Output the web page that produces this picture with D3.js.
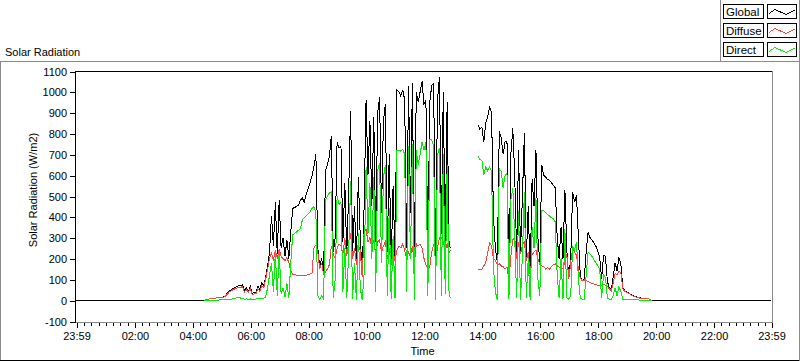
<!DOCTYPE html>
<html><head><meta charset="utf-8">
<script src="https://cdn.jsdelivr.net/npm/d3@7"></script>
<style>
html,body{margin:0;padding:0;background:#fff;}
svg{display:block;font-family:"Liberation Sans",Arial,sans-serif;}
</style></head><body>
<svg id="chart" width="800" height="361"></svg>
<script>
// ---------- DATA ----------
const seriesNames = ["Global", "Diffuse", "Direct"];
const seriesColors = ["#000000", "#ff4040", "#00ee00"];
const xTickMinutes = [-1, 120, 240, 360, 480, 600, 720, 840, 960, 1080, 1200, 1320, 1439];
const xTickLabels = ["23:59", "02:00", "04:00", "06:00", "08:00", "10:00", "12:00", "14:00", "16:00", "18:00", "20:00", "22:00", "23:59"];
const yTickValues = [-100, 0, 100, 200, 300, 400, 500, 600, 700, 800, 900, 1000, 1100];
const yTickLabels = ["-100", "0", "100", "200", "300", "400", "500", "600", "700", "800", "900", "1000", "1100"];
// sample times (minutes after midnight): 23:59 of previous day, 04:24 .. 19:52 every 4 minutes, 23:59
const times = [-1].concat(d3.range(264, 1193, 4)).concat([1439]);

const globalValues = [0,
 0,2,4,6,8,9,10,11,12,13,15,
 20,32,42,48,56,60,65,70,68,74,
 45,58,40,66,30,38,35,66,50,85,
 70,110,165,230,405,260,470,220,480,250,
 300,210,290,200,330,440,445,450,455,480,
 490,470,510,535,565,595,640,700,250,160,
 200,130,620,650,690,790,230,300,760,730,
 740,280,560,220,520,910,220,450,180,590,
 300,120,450,960,600,860,450,880,280,900,
 975,420,860,940,230,700,180,550,200,1010,
 1000,980,1010,960,250,1030,420,1040,180,1000,
 950,1000,1050,940,960,230,950,1030,1040,200,
 960,1070,320,1000,280,950,260,250,
 null,null,null,null,null,null,null,null,null,null,null,null,null,
 840,820,830,760,850,880,930,900,400,
 250,180,810,780,700,760,760,100,700,825,
 600,220,720,230,500,800,200,450,120,580,
 450,720,300,180,650,600,590,580,575,565,
 550,540,300,200,350,200,530,240,110,200,
 520,470,505,300,110,95,100,230,325,300,
 290,275,260,235,210,100,215,210,90,60,
 50,110,180,140,205,170,60,45,40,35,
 28,22,18,16,12,11,9,7,10,8,3,0,
 0];

const diffuseValues = [null,
 0,2,4,6,8,9,10,11,12,12,14,
 18,28,38,44,50,54,58,62,60,66,
 40,52,36,58,26,30,30,55,42,70,
 60,100,150,200,225,190,240,200,245,210,
 200,190,205,180,140,125,122,120,118,120,
 120,118,120,122,125,130,250,265,230,150,
 180,125,135,150,170,260,220,200,250,270,
 260,220,300,210,280,320,200,250,170,260,
 240,110,330,340,280,300,250,290,220,280,
 290,230,260,280,200,250,170,230,190,240,
 260,250,270,240,200,230,210,260,170,270,
 260,270,250,200,170,150,160,230,270,190,
 250,300,300,280,240,270,230,240,
 null,null,null,null,null,null,null,null,null,null,null,null,null,
 145,145,150,165,180,230,275,260,200,
 190,170,175,165,160,150,160,90,210,290,
 300,200,280,220,265,280,190,230,115,220,
 230,240,200,170,165,160,150,155,150,160,
 170,175,165,160,150,155,180,220,100,180,
 250,230,215,150,105,92,97,95,90,85,
 80,78,75,70,68,70,75,72,65,55,
 45,80,130,120,140,130,55,42,38,33,
 27,21,17,15,11,10,8,6,9,7,3,0,
 null];

const directValues = [null,
 0,0,0,0,0,0,0,0,1,1,1,
 1,2,3,4,6,8,12,14,10,8,
 5,6,4,6,3,4,5,8,6,10,
 10,15,60,120,180,40,230,20,235,30,
 60,15,80,10,180,315,320,328,335,345,
 385,395,405,415,425,440,450,420,20,5,
 20,5,480,500,515,520,10,100,500,460,
 470,40,250,10,230,570,5,180,0,320,
 60,0,130,640,320,560,200,590,40,620,
 660,180,590,650,20,440,5,310,10,720,
 720,715,725,700,40,740,200,750,0,720,
 650,700,760,720,760,20,770,770,740,0,
 700,730,20,700,30,650,20,10,
 null,null,null,null,null,null,null,null,null,null,null,null,null,
 690,675,670,600,640,620,640,620,150,
 40,0,630,620,540,600,610,5,480,540,
 300,10,430,0,220,520,10,200,0,350,
 250,490,100,20,430,430,420,410,405,395,
 390,375,120,10,200,5,340,10,5,20,
 260,240,280,100,10,5,5,120,230,222,
 210,195,180,165,150,10,120,110,10,5,
 3,20,60,20,65,40,3,2,2,1,
 1,1,1,1,1,0,0,0,0,0,0,0,
 null];

// ---------- CHART ----------
const svg = d3.select("#chart");
const frameGray = "#8a8a8a";
const plotLeft = 76, plotRight = 771, plotTop = 71, plotBottom = 321;

const x = d3.scaleLinear().domain([-1, 1439]).range([plotLeft, plotRight]);
const y = d3.scaleLinear().domain([-100, 1100]).range([plotBottom, plotTop]);

// outer panel lines
svg.append("line").attr("x1", 0).attr("x2", 800).attr("y1", 61.5).attr("y2", 61.5).attr("stroke", frameGray);
svg.append("line").attr("x1", 0.5).attr("x2", 0.5).attr("y1", 61).attr("y2", 361).attr("stroke", frameGray);
svg.append("line").attr("x1", 0).attr("x2", 800).attr("y1", 360.5).attr("y2", 360.5).attr("stroke", "#000");
svg.append("line").attr("x1", 799.5).attr("x2", 799.5).attr("y1", 0).attr("y2", 361).attr("stroke", frameGray);
svg.append("line").attr("x1", 720.5).attr("x2", 720.5).attr("y1", 0).attr("y2", 61).attr("stroke", frameGray);

// caption
svg.append("text").attr("x", 5).attr("y", 55.5).attr("font-size", 11).attr("fill", "#000").text("Solar Radiation");

// plot frame
svg.append("line").attr("x1", 75.5).attr("x2", 772).attr("y1", 71.5).attr("y2", 71.5).attr("stroke", "#000");
svg.append("line").attr("x1", 772.5).attr("x2", 772.5).attr("y1", 71).attr("y2", 323).attr("stroke", frameGray);
svg.append("line").attr("x1", 75).attr("x2", 773).attr("y1", 322.5).attr("y2", 322.5).attr("stroke", frameGray);
svg.append("line").attr("x1", 75.5).attr("x2", 75.5).attr("y1", 71).attr("y2", 323).attr("stroke", "#000");

// series
const seriesData = [globalValues, diffuseValues, directValues];
const line = d3.line().defined(d => d[1] !== null).x(d => x(d[0])).y(d => y(d[1]));
seriesData.forEach((vals, k) => {
  svg.append("path")
    .datum(times.map((t, i) => [t, vals[i]]))
    .attr("d", line)
    .attr("fill", "none")
    .attr("stroke", seriesColors[k])
    .attr("stroke-width", 1)
    .attr("shape-rendering", "crispEdges");
});

// y axis
const yAxis = d3.axisLeft(y).tickValues(yTickValues).tickFormat((d, i) => yTickLabels[i]).tickSize(5).tickPadding(3);
const gy = svg.append("g").attr("transform", "translate(75,0.5)").call(yAxis);
gy.select(".domain").remove();
gy.selectAll("text").attr("font-size", 11).attr("font-family", "Liberation Sans, Arial, sans-serif").attr("fill", "#000");
gy.selectAll("line").attr("shape-rendering", "crispEdges");

// x axis minor ticks
const minorTicks = d3.range(15, 1439, 15).filter(m => m % 120 !== 0);
const xMinor = d3.axisBottom(x).tickValues(minorTicks).tickFormat("").tickSize(3);
const gxm = svg.append("g").attr("transform", "translate(0.5,323)").call(xMinor);
gxm.select(".domain").remove();
gxm.selectAll("line").attr("shape-rendering", "crispEdges");

// x axis major ticks
const xAxis = d3.axisBottom(x).tickValues(xTickMinutes).tickFormat((d, i) => xTickLabels[i]).tickSize(5).tickPadding(4);
const gx = svg.append("g").attr("transform", "translate(0.5,323)").call(xAxis);
gx.select(".domain").remove();
gx.selectAll("text").attr("font-size", 11).attr("font-family", "Liberation Sans, Arial, sans-serif").attr("fill", "#000");
gx.selectAll("line").attr("shape-rendering", "crispEdges");

// axis titles
svg.append("text").attr("x", (plotLeft + plotRight) / 2 - 1).attr("y", 355).attr("text-anchor", "middle").attr("font-size", 11).text("Time");
svg.append("text").attr("transform", "translate(37,190) rotate(-90)").attr("text-anchor", "middle").attr("font-size", 11).text("Solar Radiation (W/m2)");

// legend
const legendY = [4.5, 23.5, 42.5];
seriesNames.forEach((name, k) => {
  const g = svg.append("g").attr("transform", `translate(0,${legendY[k]})`);
  g.append("rect").attr("x", 723.5).attr("y", 0).attr("width", 40).attr("height", 14).attr("fill", "#fff").attr("stroke", "#000");
  g.append("text").attr("x", 726).attr("y", 11).attr("font-size", 11.5).text(name);
  g.append("rect").attr("x", 767.5).attr("y", 0).attr("width", 29).attr("height", 14).attr("fill", "#fff").attr("stroke", "#000");
  g.append("path").attr("d", "M769,9 L775,5 L786,10 L795,5.5").attr("fill", "none").attr("stroke", seriesColors[k]).attr("shape-rendering", "crispEdges");
});
</script>
</body></html>
